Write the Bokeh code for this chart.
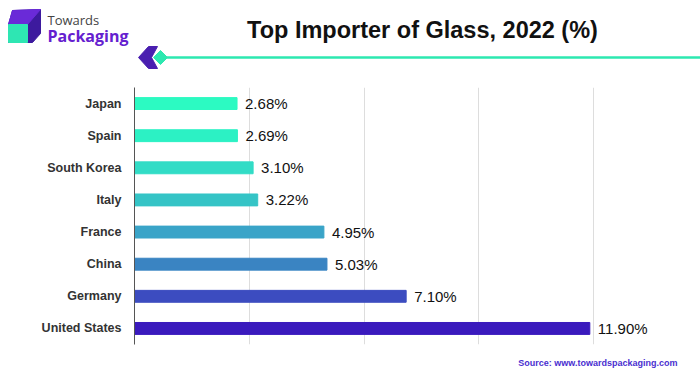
from bokeh.plotting import figure
from bokeh.models import Range1d, FactorRange, ColumnDataSource, FixedTicker, LabelSet
from bokeh.core.properties import value
from bokeh.embed import file_html
from bokeh.resources import INLINE

countries = ["Japan", "Spain", "South Korea", "Italy", "France", "China", "Germany", "United States"]
shares = [2.68, 2.69, 3.10, 3.22, 4.95, 5.03, 7.10, 11.90]
bar_colors = ["#2cfac2", "#2cf1c4", "#32dcc6", "#35c4c6", "#3aa4c8", "#3a84c2", "#3c4cc0", "#3a1abd"]
grid_ticks = [3, 6, 9, 12]
title_text = "Top Importer of Glass, 2022 (%)"
source_text = "Source: www.towardspackaging.com"

W = 700
# ---------- header ----------
h = figure(width=W, height=80, x_range=Range1d(0, W), y_range=Range1d(80, 0),
           output_backend="svg", toolbar_location=None, x_axis_location=None,
           y_axis_location=None, min_border=0, outline_line_color=None)
h.grid.visible = False
# logo cube
h.patch([12, 40, 40, 32, 8, 8], [10, 9, 33, 42, 42, 24], color="#3d1a9e")
h.patch([12, 40, 27, 8], [10, 9, 24, 24], color="#6a2ad8")
h.patch([8, 27, 27, 8], [24, 24, 42, 42], color="#2ee6b3")
h.text([47], [19], text=["Towards"], text_font=value("Open Sans"), text_font_size="13px",
       text_color="#444444", text_baseline="middle")
h.text([47], [35], text=["Packaging"], text_font=value("Open Sans"), text_font_size="16px",
       text_font_style="bold", text_color="#6420cf", text_baseline="middle")
# title
h.text([422], [29], text=[title_text], text_font=value("Liberation Sans"), text_font_size="23.5px",
       text_font_style="bold", text_color="#111111", text_align="center", text_baseline="middle")
# line + chevron
h.line([163, W], [57, 57], line_color="#2de8b0", line_width=2.5)
h.patch([148, 157, 151, 157, 148, 138], [46, 46, 57, 68, 68, 57], color="#4a1fb0")
h.patch([160, 167, 160, 153], [50, 57, 64, 57], color="#2de8b0")

# ---------- main ----------
src = ColumnDataSource(dict(country=countries, share=shares, color=bar_colors,
                            label=[f"{v:.2f}%" for v in shares]))
p = figure(width=W, height=272, y_range=FactorRange(*reversed(countries)),
           x_range=Range1d(0, 14.27), output_backend="svg", toolbar_location=None,
           x_axis_location=None, min_border_left=134, min_border_right=20,
           min_border_top=7, min_border_bottom=8, outline_line_color=None)
p.ygrid.visible = False
p.xgrid.ticker = FixedTicker(ticks=grid_ticks)
p.xgrid.grid_line_color = "#dddddd"
p.hbar(y="country", right="share", height=0.37, color="color", source=src)
p.add_layout(LabelSet(x="share", y="country", text="label", source=src, x_offset=8,
                      text_baseline="middle", text_font_size="15px", text_color="#111111",
                      text_font=value("Liberation Sans")))
p.yaxis.major_tick_line_color = None
p.yaxis.minor_tick_line_color = None
p.yaxis.axis_line_color = "#555555"
p.yaxis.major_label_text_font = "Liberation Sans"
p.yaxis.major_label_text_font_style = "bold"
p.yaxis.major_label_text_font_size = "12.5px"
p.yaxis.major_label_text_color = "#333333"
p.yaxis.major_label_standoff = 7

# ---------- footer ----------
f = figure(width=W, height=24, x_range=Range1d(0, W), y_range=Range1d(24, 0),
           output_backend="svg", toolbar_location=None, x_axis_location=None,
           y_axis_location=None, min_border=0, outline_line_color=None)
f.grid.visible = False
f.text([677], [10], text=[source_text], text_font=value("Liberation Sans"), text_font_size="9px",
       text_font_style="bold", text_color="#4a2fd0", text_align="right", text_baseline="middle")

open("out.html", "w").write(file_html((h, p, f), INLINE))
